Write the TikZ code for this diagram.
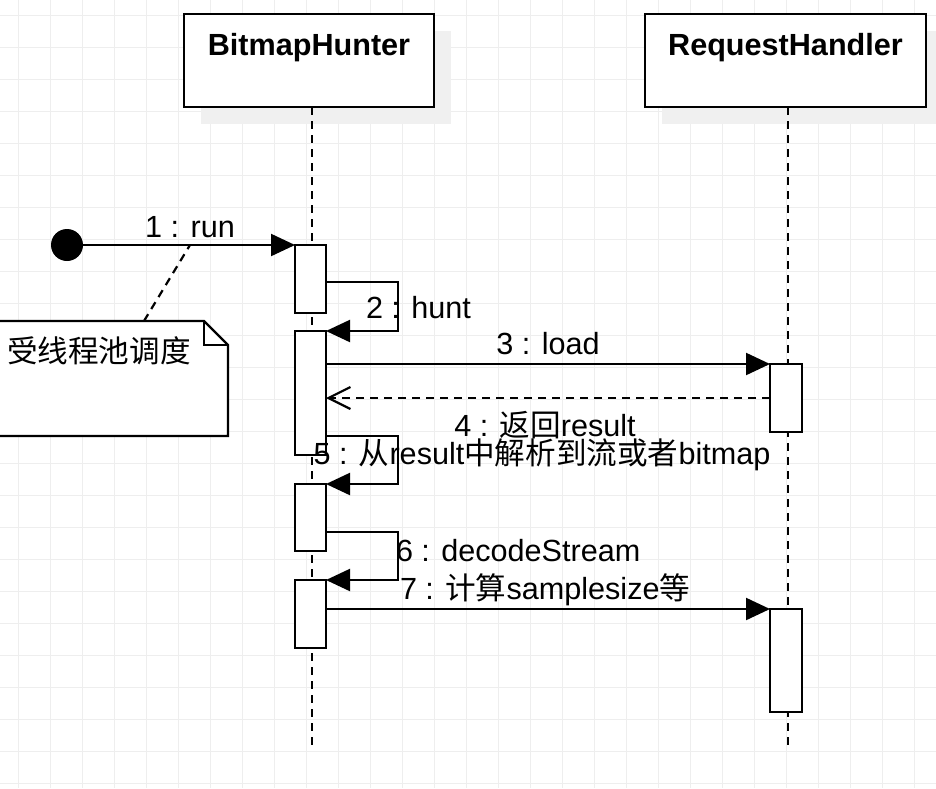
\documentclass[tikz,border=0pt]{standalone}
\usepackage{fontspec}
\setmainfont{Liberation Sans}
\newfontfamily\cjk{Noto Sans CJK SC}
\usetikzlibrary{arrows.meta}
\definecolor{gridc}{HTML}{EEEEEE}
\definecolor{shadowc}{HTML}{F0F0F0}
\begin{document}
\begin{tikzpicture}[x=1pt,y=-1pt,
  every node/.style={inner sep=0pt,outer sep=0pt},
  lbl/.style={font=\fontsize{30.6}{36}\selectfont},
  ttl/.style={font=\fontsize{30.6}{36}\selectfont\bfseries},
  headbox/.style={draw, line width=2.2pt, fill=white, minimum height=93pt},
  shad/.style={fill=shadowc, minimum height=93pt},
  actbar/.style={draw, line width=2.2pt, fill=white, minimum width=31pt},
  lifeline/.style={line width=2.2pt, dash pattern=on 8pt off 6pt},
  msg/.style={line width=2.2pt, -{Triangle[length=24pt,width=22pt]}},
  ret/.style={line width=2.2pt, dash pattern=on 8pt off 6pt, -{Straight Barb[length=22pt,width=22pt,line width=2.2pt]}}
]
\useasboundingbox (0,0) rectangle (936,788);
\fill[white] (0,0) rectangle (936,788);
% grid
\foreach \gx in {18,50,...,914} \draw[gridc, line width=1pt] (\gx,0) -- (\gx,788);
\foreach \gy in {15,47,...,783} \draw[gridc, line width=1pt] (0,\gy) -- (936,\gy);
% shadows
\node[shad, minimum width=250pt] (bhs) at (326,77.5) {};
\node[shad, minimum width=281pt] (rhs) at (802.5,77.5) {};
% heads
\node[headbox, minimum width=250pt] (bh) at (309,60.5) {};
\node[headbox, minimum width=281pt] (rh) at (785.5,60.5) {};
\node[ttl, anchor=base] (bht) at (309,55) {BitmapHunter};
\node[ttl, anchor=base] (rht) at (785.5,55) {RequestHandler};
% lifelines
\coordinate (bhtop) at (312,107);
\coordinate (bhbot) at (312,745);
\coordinate (rhtop) at (788,107);
\coordinate (rhbot) at (788,745);
\draw[lifeline] (bhtop) -- (bhbot);
\draw[lifeline] (rhtop) -- (rhbot);
% activation bars
\node[actbar, minimum height=68pt] (a1) at (310.5,279) {};
\node[actbar, minimum height=124pt] (a2) at (310.5,393) {};
\node[actbar, minimum height=67pt] (a3) at (310.5,517.5) {};
\node[actbar, minimum height=68pt] (a4) at (310.5,614) {};
\node[actbar, minimum width=32pt, minimum height=68pt] (r1) at (786,398) {};
\node[actbar, minimum width=32pt, minimum height=103pt] (r2) at (786,660.5) {};
% start
\node[circle, fill=black, minimum size=32pt] (start) at (67,245) {};
\draw[msg] (start.east) -- (a1.north west);
% 2 hunt
\coordinate (h1) at (326,282);
\coordinate (h2) at (398,282);
\draw[msg] (h1) -- (h2) |- (a2.north east);
% 3 load
\coordinate (l3) at (326,364);
\draw[msg] (l3) -- (r1.north west);
% 4 return
\draw[ret] (r1.west) -- (r1.west -| a2.east);
% 5 self
\coordinate (s5a) at (326,436);
\coordinate (s5b) at (398,436);
\draw[msg] (s5a) -- (s5b) |- (a3.north east);
% 6 self
\coordinate (s6a) at (326,532);
\coordinate (s6b) at (398,532);
\draw[msg] (s6a) -- (s6b) |- (a4.north east);
% 7
\coordinate (l7) at (326,609);
\draw[msg] (l7) -- (r2.north west);
% note
\draw[line width=2.2pt, fill=white] (-5,321) -- (204,321) -- (228,345) -- (228,436) -- (-5,436);
\draw[line width=2.2pt] (204,321) -- (204,345) -- (228,345);
\node[lbl, anchor=base west] (notetext) at (7,362) {\cjk 受线程池调度};
\coordinate (notepin) at (144,321);
\coordinate (runpin) at (190,245);
\draw[line width=2.2pt, dash pattern=on 8pt off 6pt] (notepin) -- (runpin);
% labels
\node[lbl, anchor=base] (t1) at (190,237) {1 : run};
\node[lbl, anchor=base west] (t2) at (366,318) {2 : hunt};
\node[lbl, anchor=base] (t3) at (548,354) {3 : load};
\node[lbl, anchor=base] (t4) at (545,436) {4 : {\cjk 返回}result};
\node[lbl, anchor=base] (t5) at (542,464) {5 : {\cjk 从}result{\cjk 中解析到流或者}bitmap};
\node[lbl, anchor=base west] (t6) at (396,561) {6 : decodeStream};
\node[lbl, anchor=base west] (t7) at (400,599) {7 : {\cjk 计算}samplesize{\cjk 等}};
\end{tikzpicture}
\end{document}
